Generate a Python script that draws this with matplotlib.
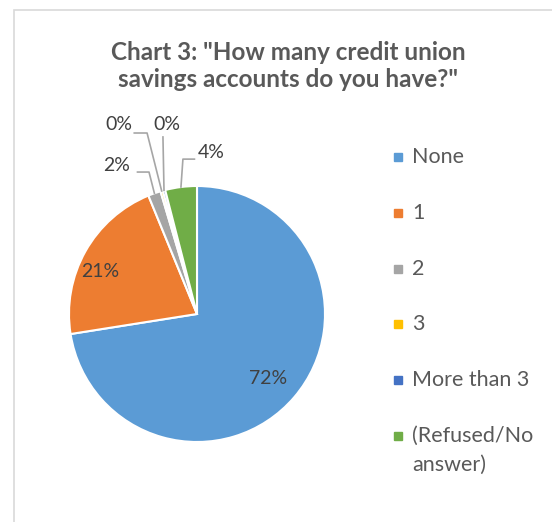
import numpy as np
import matplotlib.pyplot as plt
from matplotlib.lines import Line2D
from matplotlib.patches import Rectangle

categories = ["None", "1", "2", "3", "More than 3", "(Refused/No\nanswer)"]
values = [72.5, 21.3, 1.6, 0.3, 0.3, 4.0]
colors = ["#5B9BD5", "#ED7D31", "#A5A5A5", "#FFC000", "#4472C4", "#70AD47"]
title = 'Chart 3: "How many credit union\nsavings accounts do you have?"'

# label positions (data units, pie radius = 1)
label_pos = [(0.555, -0.50), (-0.76, 0.33), (-0.625, 1.164), (-0.61, 1.477), (-0.234, 1.477), (0.11, 1.258)]
elbows = [None, None, (-0.375, 1.109), (-0.39, 1.414), (-0.266, 1.383), (-0.11, 1.21)]
anchors = [None, None, (-0.465, 1.109), (-0.49, 1.414), (-0.266, 1.383), (-0.02, 1.21)]

font = "Lato"
txt = "#595959"
W, H = 552, 522

fig = plt.figure(figsize=(W / 100, H / 100), dpi=100)
fig.patches.append(Rectangle((14 / W, -0.1), 1.2, (H - 10) / H + 0.1, transform=fig.transFigure,
                             fill=False, edgecolor="#D9D9D9", linewidth=1.2))

ax = fig.add_axes([69 / W, (H - 442) / H, 256 / W, 256 / H])
wedges, _ = ax.pie(values, colors=colors, startangle=90, counterclock=False,
                   wedgeprops=dict(edgecolor="white", linewidth=1.5))
ax.set_xlim(-1, 1)
ax.set_ylim(-1, 1)
ax.set_aspect("equal")
ax.axis("off")

total = sum(values)
for i, w in enumerate(wedges):
    pct = f"{values[i] / total * 100:.0f}%"
    x, y = label_pos[i]
    ax.text(x, y, pct, ha="center", va="center", fontsize=14, color="#404040", family=font, clip_on=False)
    if elbows[i] is not None:
        ang = np.deg2rad((w.theta1 + w.theta2) / 2)
        ex, ey = np.cos(ang), np.sin(ang)
        ax.plot([ex, elbows[i][0], anchors[i][0]], [ey, elbows[i][1], anchors[i][1]],
                color="#A6A6A6", linewidth=1.2, clip_on=False)

fig.text(288 / W, 1 - 66 / H, title, ha="center", va="center", fontsize=17.5, fontweight="bold",
         color=txt, family=font, linespacing=1.25)

# legend drawn by hand so the marker sits on the first line of a wrapped label
leg_y0, leg_dy, line_dy = 157, 55.8, 29
for i, (lab, c) in enumerate(zip(categories, colors)):
    y = leg_y0 + leg_dy * i
    fig.add_artist(Line2D([398 / W], [1 - y / H], marker="s", markersize=6, color=c,
                          linestyle="none", transform=fig.transFigure))
    for j, line in enumerate(lab.split("\n")):
        fig.text(412 / W, 1 - (y + j * line_dy) / H, line, ha="left", va="center",
                 fontsize=15.5, color=txt, family=font)

fig.savefig("out.png", dpi=100)
